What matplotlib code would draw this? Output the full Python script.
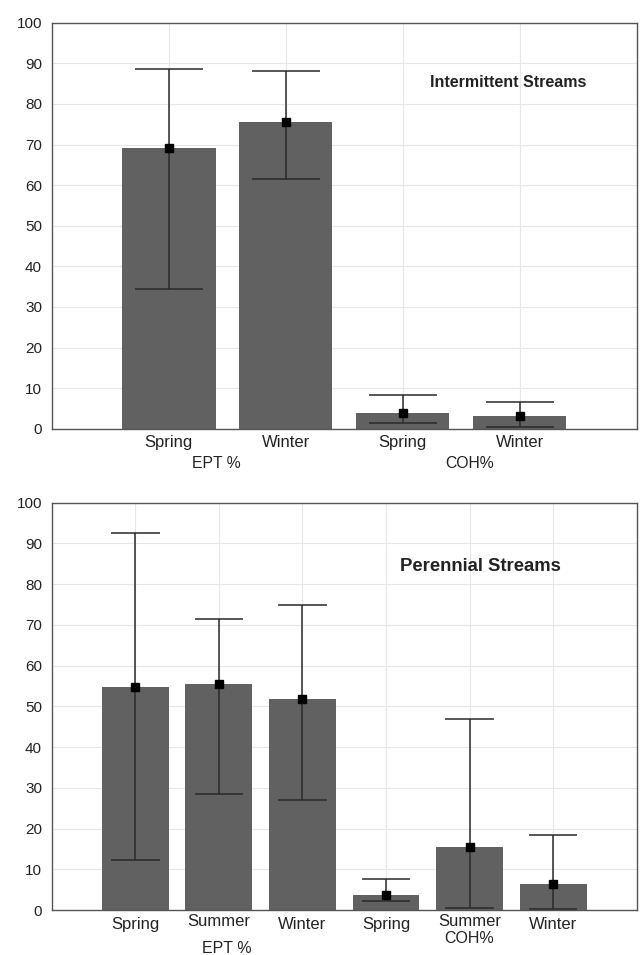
import matplotlib
matplotlib.use("Agg")
import matplotlib.pyplot as plt
import matplotlib.transforms as mtransforms

plt.rcParams['font.family'] = ['Liberation Sans', 'DejaVu Sans']

# ---- data ----
top_labels = ["Spring", "Winter", "Spring", "Winter"]
top_mean = [69.2, 75.5, 3.9, 3.1]
top_upper = [88.7, 88.1, 8.3, 6.6]
top_lower = [34.4, 61.6, 1.3, 0.3]
top_groups = ["EPT %", "COH%"]
top_title = "Intermittent Streams"

bot_labels = ["Spring", "Summer", "Winter", "Spring", "Summer", "Winter"]
bot_mean = [54.8, 55.5, 51.7, 3.8, 15.5, 6.5]
bot_upper = [92.5, 71.4, 74.8, 7.6, 46.9, 18.4]
bot_lower = [12.3, 28.6, 27.0, 2.1, 0.4, 0.2]
bot_groups = ["EPT %", "COH%"]
bot_title = "Perennial Streams"

yticks = [0, 10, 20, 30, 40, 50, 60, 70, 80, 90, 100]

BAR = "#616161"
TXT = "#222222"

fig = plt.figure(figsize=(6.4, 9.55), dpi=100)
ax1 = fig.add_axes([0.0808, 0.5511, 0.9140, 0.4251])
ax2 = fig.add_axes([0.0808, 0.0471, 0.9140, 0.4265])


def draw(ax, labels, mean, upper, lower):
    n = len(labels)
    x = list(range(n))
    ax.set_axisbelow(True)
    ax.grid(True, color="#e6e6e6", linewidth=0.8)
    ax.bar(x, mean, width=0.8, color=BAR, zorder=2)
    yerr = [[m - l for m, l in zip(mean, lower)], [u - m for m, u in zip(mean, upper)]]
    ax.errorbar(x, mean, yerr=yerr, fmt="s", color="black", ecolor="#2a2a2a",
                elinewidth=1.1, capsize=0, markersize=5.5, zorder=3)
    ax.hlines(upper, [i - 0.29 for i in x], [i + 0.29 for i in x], color="#2a2a2a",
              linewidth=1.1, zorder=3)
    ax.hlines(lower, [i - 0.29 for i in x], [i + 0.29 for i in x], color="#2a2a2a",
              linewidth=1.1, zorder=3)
    ax.set_xlim(-1, n)
    ax.set_ylim(0, 100)
    ax.set_yticks(yticks)
    ax.set_xticks(x)
    ax.set_xticklabels([])
    ax.tick_params(axis="y", length=0, pad=7, labelsize=11, labelcolor=TXT)
    ax.tick_params(axis="x", length=0)
    for s in ax.spines.values():
        s.set_color("#555555")
        s.set_linewidth(1.0)
    trans = mtransforms.blended_transform_factory(ax.transData, ax.transAxes)
    return trans


t1 = draw(ax1, top_labels, top_mean, top_upper, top_lower)
h1 = 406.0
for i, lab in enumerate(top_labels):
    ax1.text(i, -14 / h1, lab, transform=t1, ha="center", va="center", fontsize=12, color=TXT)
ax1.text(0.41, -35 / h1, top_groups[0], transform=t1, ha="center", va="center", fontsize=11.3, color=TXT)
ax1.text(2.575, -35 / h1, top_groups[1], transform=t1, ha="center", va="center", fontsize=11.3, color=TXT)
ax1.text(2.23, 85.4, top_title, ha="left", va="center", fontsize=11.5, fontweight="bold", color=TXT)

t2 = draw(ax2, bot_labels, bot_mean, bot_upper, bot_lower)
h2 = 407.3
for i, lab in enumerate(bot_labels):
    off = 11.5 if lab == "Summer" else 14
    ax2.text(i, -off / h2, lab, transform=t2, ha="center", va="center", fontsize=12, color=TXT)
ax2.text(1.095, -38 / h2, bot_groups[0], transform=t2, ha="center", va="center", fontsize=11.5, color=TXT)
ax2.text(4.0, -28 / h2, bot_groups[1], transform=t2, ha="center", va="center", fontsize=11.5, color=TXT)
ax2.text(3.17, 84.4, bot_title, ha="left", va="center", fontsize=13.3, fontweight="bold", color=TXT)

fig.savefig("out.png", dpi=100)
